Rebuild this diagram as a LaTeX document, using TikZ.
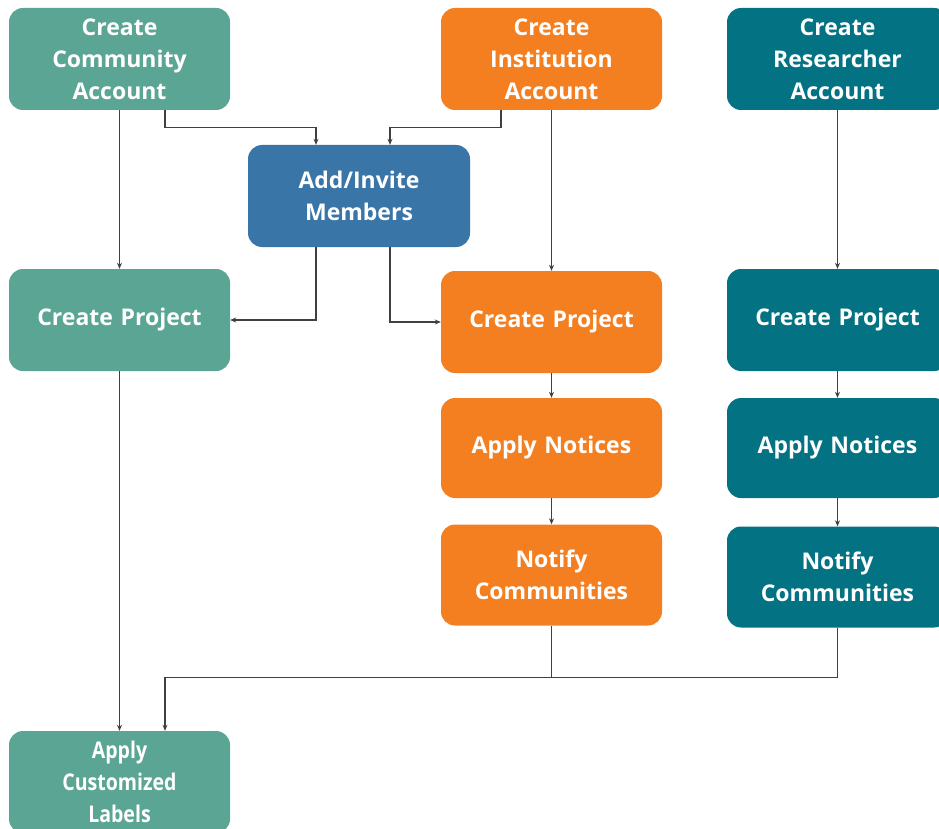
\documentclass[tikz,border=0pt]{standalone}
\usepackage{fontspec}
\setmainfont{Open Sans}
\usetikzlibrary{arrows.meta,calc}
\definecolor{cgreen}{HTML}{5BA595}
\definecolor{corange}{HTML}{F47F20}
\definecolor{cteal}{HTML}{037383}
\definecolor{cblue}{HTML}{3A75A8}
\definecolor{linec}{HTML}{404040}
\begin{document}
\begin{tikzpicture}[x=1pt,y=-1pt,
  box/.style={rounded corners=14pt, minimum width=221pt, minimum height=102pt,
    inner sep=0pt, text=white, font=\fontsize{23}{32}\selectfont\bfseries,
    align=center, text width=215pt},
  conn/.style={draw=linec, line width=1.2pt, -{Stealth[length=6pt,width=5pt]}},
  plain/.style={draw=linec, line width=1.2pt}]
\clip (0,0) rectangle (939,829);
\fill[white] (0,0) rectangle (939,829);
% nodes
\node[box, fill=cgreen]  (ca)   at (119.5,59)  {Create\\Community\\Account};
\node[box, fill=corange] (ia)   at (551.5,59)  {Create\\Institution\\Account};
\node[box, fill=cteal]   (ra)   at (837.5,59)  {Create\\Researcher\\Account};
\node[box, fill=cblue, minimum width=222pt] (am) at (359,196) {Add/Invite\\Members};
\node[box, fill=cgreen]  (gp)   at (119.5,320) {Create Project};
\node[box, fill=corange] (op)   at (551.5,322) {Create Project};
\node[box, fill=cteal]   (tp)   at (837.5,320) {Create Project};
\node[box, fill=corange, minimum height=100pt] (on) at (551.5,448) {Apply Notices};
\node[box, fill=cteal, minimum height=100pt]   (tn) at (837.5,448) {Apply Notices};
\node[box, fill=corange, minimum height=101pt] (onot) at (551.5,575) {Notify\\Communities};
\node[box, fill=cteal, minimum height=101pt]   (tnot) at (837.5,577) {Notify\\Communities};
\node[box, fill=cgreen]  (lab)  at (119.5,782) {\scalebox{0.85}[1]{Apply}\\\scalebox{0.85}[1]{Customized}\\\scalebox{0.85}[1]{Labels}};
% helper coordinates
\coordinate (caR) at ([xshift=45.5pt]ca.south);
\coordinate (iaL) at ([xshift=-50.5pt]ia.south);
\coordinate (amL) at ([xshift=-43pt]am.north);
\coordinate (amR) at ([xshift=31pt]am.north);
\coordinate (amLs) at ([xshift=-43pt]am.south);
\coordinate (amRs) at ([xshift=31pt]am.south);
\coordinate (labR) at ([xshift=45.5pt]lab.north);
\coordinate (join) at ($(onot.south)+(0,52)$);
% connectors
\draw[conn] (ca.south) -- (gp.north);
\draw[conn] (caR) |- ($(amL)+(0,-17)$) -- (amL);
\draw[conn] (iaL) |- ($(amR)+(0,-17)$) -- (amR);
\draw[conn] (ia.south) -- (op.north);
\draw[conn] (amLs) |- (gp.east);
\draw[conn] (amRs) |- (op.west);
\draw[conn] (ra.south) -- (tp.north);
\draw[conn] (op.south) -- (on.north);
\draw[conn] (on.south) -- (onot.north);
\draw[conn] (tp.south) -- (tn.north);
\draw[conn] (tn.south) -- (tnot.north);
\draw[conn] (gp.south) -- (lab.north);
\draw[conn] (onot.south) -- (join) -| (labR);
\draw[plain] (tnot.south) |- (join);
\end{tikzpicture}
\end{document}
